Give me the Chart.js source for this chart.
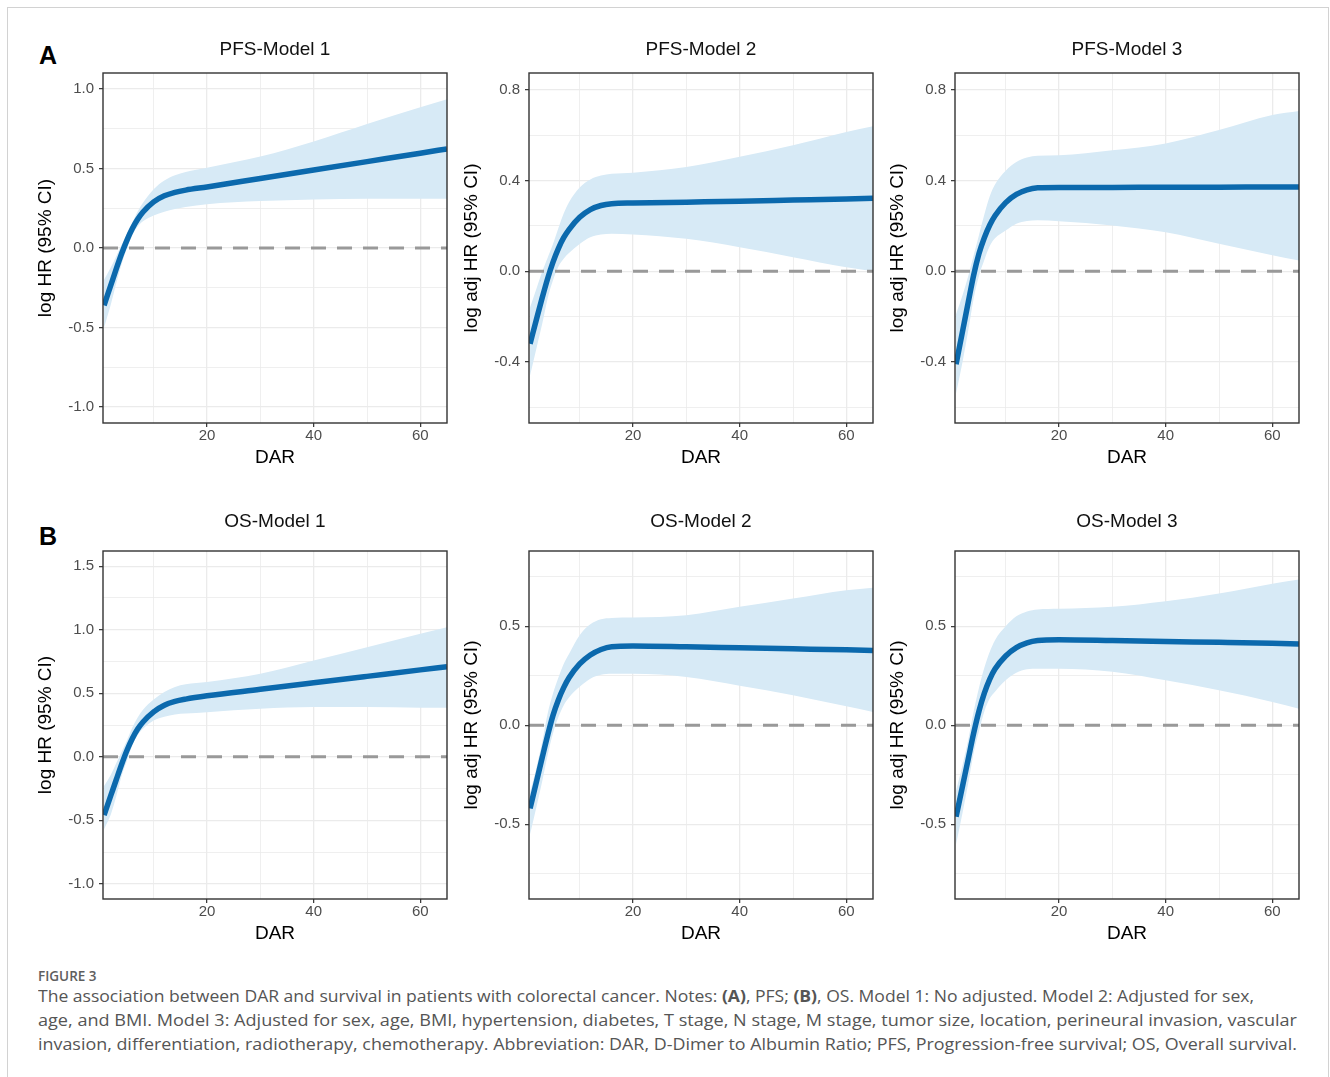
<!DOCTYPE html>
<html>
<head>
<meta charset="utf-8">
<script src="https://cdn.jsdelivr.net/npm/chart.js@4.4.1/dist/chart.umd.min.js"></script>
<style>
  body { margin: 0; background: #fff; width: 1330px; height: 1077px; position: relative; overflow: hidden;
         font-family: "Liberation Sans", Arial, sans-serif; }
  #frame { position: absolute; left: 7px; top: 7px; width: 1320px; height: 1100px; border: 1px solid #d2d2d2; }
  canvas { position: absolute; }
  .tag { position: absolute; font-weight: bold; font-size: 25px; line-height: 25px; color: #000; }
  .cap { position: absolute; left: 38px; white-space: nowrap; font-family: "Open Sans", sans-serif;
         color: #555; transform-origin: 0 0; }
  .cap.line { font-size: 16.5px; line-height: 24px; }
  .cap.head { font-size: 13.5px; line-height: 20px; font-weight: 600; color: #5e5e5e; }
</style>
</head>
<body>
<div id="frame"></div>
<div class="tag" style="left:39px;top:43px">A</div>
<div class="tag" style="left:39px;top:524px">B</div>

<div class="cap head" style="top:966px">FIGURE 3</div>
<div class="cap line" data-w="1216" style="top:984px">The association between DAR and survival in patients with colorectal cancer. Notes: <b>(A)</b>, PFS; <b>(B)</b>, OS. Model 1: No adjusted. Model 2: Adjusted for sex,</div>
<div class="cap line" data-w="1259" style="top:1008px">age, and BMI. Model 3: Adjusted for sex, age, BMI, hypertension, diabetes, T stage, N stage, M stage, tumor size, location, perineural invasion, vascular</div>
<div class="cap line" data-w="1259" style="top:1032px">invasion, differentiation, radiotherapy, chemotherapy. Abbreviation: DAR, D-Dimer to Albumin Ratio; PFS, Progression-free survival; OS, Overall survival.</div>

<canvas id="c0" width="421" height="455"></canvas>
<canvas id="c1" width="421" height="455"></canvas>
<canvas id="c2" width="421" height="455"></canvas>
<canvas id="c3" width="421" height="453"></canvas>
<canvas id="c4" width="421" height="453"></canvas>
<canvas id="c5" width="421" height="453"></canvas>

<script>
var dar = [0.7, 2, 3, 4, 5, 6, 7, 8, 10, 12, 14, 16, 20, 30, 40, 50, 60, 65];

// PFS - model 1
var pfs1Fit = [-0.36, -0.23, -0.13, -0.035, 0.05, 0.122, 0.18, 0.226, 0.29, 0.328, 0.35, 0.364, 0.384, 0.437, 0.49, 0.543, 0.596, 0.623];
var pfs1Up  = [-0.2, -0.12, -0.05, 0.02, 0.09, 0.16, 0.23, 0.285, 0.37, 0.425, 0.458, 0.478, 0.505, 0.575, 0.67, 0.78, 0.885, 0.935];
var pfs1Lo  = [-0.5, -0.35, -0.22, -0.1, 0.0, 0.08, 0.135, 0.168, 0.205, 0.228, 0.245, 0.258, 0.275, 0.295, 0.305, 0.31, 0.31, 0.31];
// PFS - model 2
var pfs2Fit = [-0.32, -0.203, -0.115, -0.032, 0.04, 0.1, 0.148, 0.184, 0.238, 0.272, 0.29, 0.298, 0.301, 0.305, 0.309, 0.314, 0.319, 0.322];
var pfs2Up  = [-0.16, -0.07, 0.0, 0.06, 0.12, 0.19, 0.255, 0.305, 0.37, 0.405, 0.422, 0.43, 0.435, 0.46, 0.505, 0.556, 0.615, 0.64];
var pfs2Lo  = [-0.46, -0.33, -0.23, -0.12, -0.04, 0.02, 0.055, 0.08, 0.12, 0.15, 0.162, 0.165, 0.162, 0.143, 0.106, 0.062, 0.017, 0.0];
// PFS - model 3
var pfs3Fit = [-0.41, -0.255, -0.135, -0.017, 0.078, 0.148, 0.203, 0.245, 0.303, 0.339, 0.359, 0.368, 0.37, 0.37, 0.371, 0.371, 0.372, 0.372];
var pfs3Up  = [-0.19, -0.1, -0.02, 0.07, 0.16, 0.25, 0.33, 0.383, 0.444, 0.482, 0.502, 0.51, 0.512, 0.534, 0.564, 0.623, 0.69, 0.707];
var pfs3Lo  = [-0.54, -0.39, -0.26, -0.12, -0.02, 0.05, 0.11, 0.145, 0.18, 0.21, 0.222, 0.225, 0.221, 0.202, 0.172, 0.121, 0.07, 0.047];
// OS - model 1
var os1Fit = [-0.46, -0.301, -0.179, -0.059, 0.051, 0.144, 0.218, 0.274, 0.354, 0.406, 0.436, 0.454, 0.48, 0.531, 0.582, 0.633, 0.684, 0.709];
var os1Up  = [-0.23, -0.14, -0.05, 0.04, 0.13, 0.23, 0.31, 0.37, 0.45, 0.51, 0.55, 0.57, 0.588, 0.653, 0.758, 0.863, 0.968, 1.02];
var os1Lo  = [-0.57, -0.45, -0.31, -0.15, -0.03, 0.09, 0.17, 0.22, 0.285, 0.315, 0.333, 0.34, 0.351, 0.378, 0.391, 0.391, 0.386, 0.386];
// OS - model 2
var os2Fit = [-0.42, -0.273, -0.16, -0.05, 0.05, 0.128, 0.19, 0.24, 0.31, 0.355, 0.383, 0.397, 0.4, 0.396, 0.391, 0.386, 0.381, 0.378];
var os2Up  = [-0.34, -0.2, -0.08, 0.06, 0.16, 0.24, 0.31, 0.36, 0.455, 0.51, 0.535, 0.542, 0.544, 0.556, 0.598, 0.64, 0.682, 0.695];
var os2Lo  = [-0.55, -0.4, -0.28, -0.15, -0.04, 0.04, 0.1, 0.14, 0.194, 0.235, 0.255, 0.26, 0.26, 0.244, 0.2, 0.152, 0.096, 0.067];
// OS - model 3
var os3Fit = [-0.462, -0.296, -0.168, -0.04, 0.072, 0.162, 0.232, 0.284, 0.35, 0.392, 0.416, 0.428, 0.432, 0.428, 0.423, 0.419, 0.414, 0.41];
var os3Up  = [-0.33, -0.19, -0.07, 0.07, 0.19, 0.29, 0.37, 0.43, 0.5, 0.55, 0.575, 0.585, 0.588, 0.598, 0.626, 0.665, 0.715, 0.736];
var os3Lo  = [-0.6, -0.43, -0.29, -0.14, -0.03, 0.07, 0.135, 0.17, 0.227, 0.265, 0.283, 0.286, 0.286, 0.27, 0.227, 0.177, 0.118, 0.084];

var titles  = ["PFS-Model 1", "PFS-Model 2", "PFS-Model 3", "OS-Model 1", "OS-Model 2", "OS-Model 3"];
var yTitles = ["log HR (95% CI)", "log adj HR (95% CI)", "log adj HR (95% CI)",
               "log HR (95% CI)", "log adj HR (95% CI)", "log adj HR (95% CI)"];

// axis ranges and labelled ticks
var xMin = 0.5, xMax = 65;
var xTicks = [20, 40, 60];
var yMins = [-1.1, -0.67, -0.67, -1.12, -0.877, -0.877];
var yMaxs = [1.1, 0.875, 0.875, 1.62, 0.88, 0.88];
var pfs1Ticks = [-1.0, -0.5, 0.0, 0.5, 1.0];
var pfs23Ticks = [-0.4, 0.0, 0.4, 0.8];
var os1Ticks = [-1.0, -0.5, 0.0, 0.5, 1.0, 1.5];
var os23Ticks = [-0.5, 0.0, 0.5];
var refValue = 0;

var fits = [pfs1Fit, pfs2Fit, pfs3Fit, os1Fit, os2Fit, os3Fit];
var ups  = [pfs1Up, pfs2Up, pfs3Up, os1Up, os2Up, os3Up];
var los  = [pfs1Lo, pfs2Lo, pfs3Lo, os1Lo, os2Lo, os3Lo];
var yTicks = [pfs1Ticks, pfs23Ticks, pfs23Ticks, os1Ticks, os23Ticks, os23Ticks];

// layout in pixels
var colLeft = [103, 529, 955];
var rowTop = [73, 551];
var titleGap = [23.3, 29.3];
var AXW = 73, TOPH = 45, BOTH = 60;

var lineBlue = "#0b69ad";
var bandBlue = "#d7eaf6";
var gridGrey = "#ebebeb";

// major ticks plus the half-way (minor) grid lines
function withMinor(major, min, max) {
  var step = major[1] - major[0];
  var out = [];
  for (var i = -1; i < major.length; i++) {
    var m = i < 0 ? major[0] - step : major[i];
    if (i >= 0) out.push({ value: m, lab: true });
    out.push({ value: +(m + step / 2).toFixed(4), lab: false });
  }
  return out.filter(function (t) { return t.value > min && t.value < max; })
            .sort(function (a, b) { return a.value - b.value; });
}

function pts(ys) {
  return dar.map(function (x, i) { return { x: x, y: ys[i] }; });
}

var framePlugin = {
  id: "frame",
  afterDraw: function (chart) {
    var a = chart.chartArea, ctx = chart.ctx;
    ctx.save();
    ctx.strokeStyle = "#333";
    ctx.lineWidth = 1.4;
    ctx.strokeRect(a.left, a.top, a.right - a.left, a.bottom - a.top);
    ctx.restore();
  }
};

function gridOpts() {
  return {
    color: gridGrey,
    lineWidth: function (c) { return c.tick && c.tick.lab ? 1.3 : 0.8; },
    tickColor: function (c) { return c.tick && c.tick.lab ? "#333" : "rgba(0,0,0,0)"; },
    tickLength: 4,
    tickWidth: 1.2
  };
}

for (var p = 0; p < 6; p++) {
  var row = p < 3 ? 0 : 1, col = p % 3;
  var cv = document.getElementById("c" + p);
  cv.style.left = (colLeft[col] - AXW) + "px";
  cv.style.top = (rowTop[row] - TOPH) + "px";

  (function (p, row) {
    var yMin = yMins[p], yMax = yMaxs[p], yMajor = yTicks[p];
    new Chart(cv, {
      type: "line",
      data: {
        datasets: [
          { data: pts(fits[p]), borderColor: lineBlue, borderWidth: 5.5, cubicInterpolationMode: "monotone",
            fill: false, xAxisID: "x", yAxisID: "y" },
          { data: [{ x: xMin, y: refValue }, { x: xMax, y: refValue }], borderColor: "#999999", borderWidth: 3,
            borderDash: [15, 11], fill: false, xAxisID: "x", yAxisID: "y" },
          { data: pts(ups[p]), borderColor: "rgba(0,0,0,0)", borderWidth: 0, cubicInterpolationMode: "monotone",
            backgroundColor: bandBlue, fill: "+1", xAxisID: "x", yAxisID: "y" },
          { data: pts(los[p]), borderColor: "rgba(0,0,0,0)", borderWidth: 0, cubicInterpolationMode: "monotone",
            fill: false, xAxisID: "x", yAxisID: "y" }
        ]
      },
      options: {
        responsive: false,
        animation: false,
        layout: { padding: { right: 4 } },
        elements: { point: { radius: 0 } },
        plugins: { legend: { display: false }, tooltip: { enabled: false } },
        scales: {
          x: {
            type: "linear", position: "bottom", min: xMin, max: xMax,
            afterBuildTicks: function (s) { s.ticks = withMinor(xTicks, xMin, xMax); },
            afterFit: function (s) { s.height = BOTH; },
            grid: gridOpts(),
            border: { display: false },
            ticks: {
              autoSkip: false, maxRotation: 0, padding: 0, color: "#4d4d4d",
              font: { family: "Liberation Sans", size: 15 },
              callback: function (v, i, t) { return t[i].lab ? String(v) : ""; }
            },
            title: { display: true, text: "DAR", color: "#000",
                     font: { family: "Liberation Sans", size: 19 }, padding: { top: 0, bottom: 14 } }
          },
          y: {
            type: "linear", position: "left", min: yMin, max: yMax,
            afterBuildTicks: function (s) { s.ticks = withMinor(yMajor, yMin, yMax); },
            afterFit: function (s) { s.width = AXW; },
            grid: gridOpts(),
            border: { display: false },
            ticks: {
              autoSkip: false, padding: 5, color: "#4d4d4d",
              font: { family: "Liberation Sans", size: 15 },
              callback: function (v, i, t) { return t[i].lab ? v.toFixed(1) : ""; }
            },
            title: { display: true, text: yTitles[p], color: "#000",
                     font: { family: "Liberation Sans", size: 19 }, padding: { top: 4, bottom: 0 } }
          },
          head: {
            axis: "x", type: "linear", position: "top",
            afterFit: function (s) { s.height = TOPH; },
            grid: { display: false },
            border: { display: false },
            ticks: { display: false },
            title: { display: true, text: titles[p], color: "#111",
                     font: { family: "Liberation Sans", size: 19 },
                     padding: { top: TOPH - titleGap[row] - 11.4, bottom: 0 } }
          }
        }
      },
      plugins: [framePlugin]
    });
  })(p, row);
}

// squeeze caption lines to the measured widths
document.querySelectorAll(".cap.line").forEach(function (el) {
  var w = el.getBoundingClientRect().width;
  el.style.transform = "scaleX(" + (+el.dataset.w / w) + ")";
});
</script>
</body>
</html>
